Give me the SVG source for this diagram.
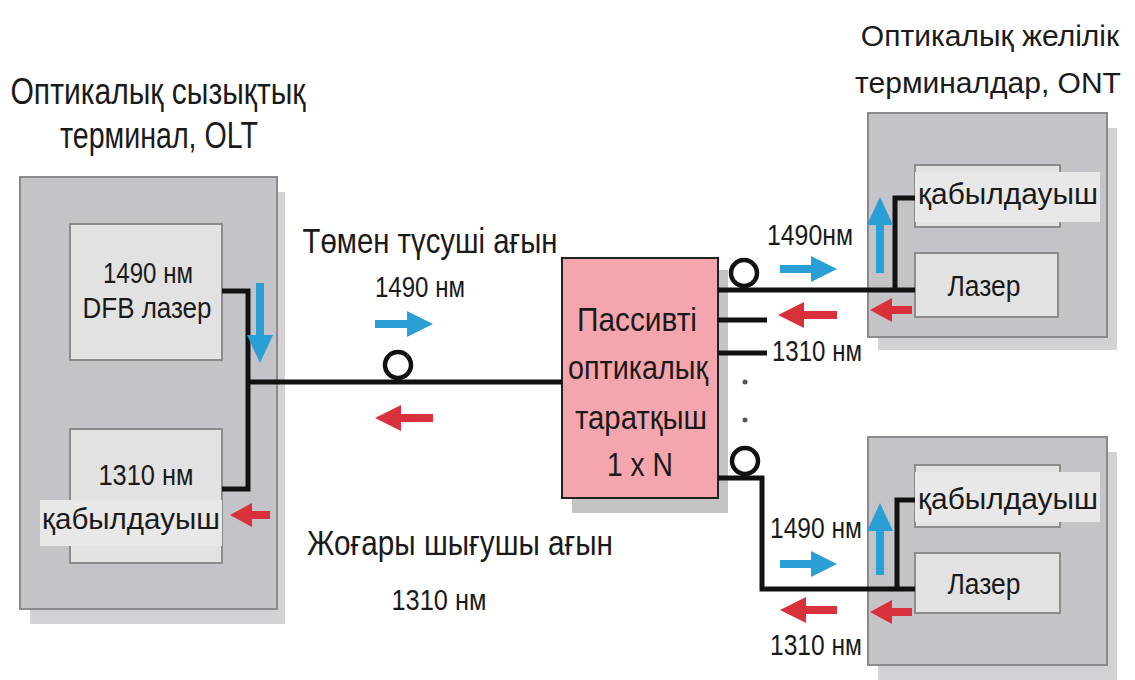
<svg xmlns="http://www.w3.org/2000/svg" width="1135" height="680" viewBox="0 0 1135 680">
<style>
text{font-family:"Liberation Sans",Arial,sans-serif;fill:#1a1a1a;text-anchor:middle}
.outer{fill:#c4c4c8;stroke:#8a8a8e;stroke-width:2}
.shadow{fill:#d2d2d6}
.inner{fill:#e2e2e2;stroke:#8c8c8c;stroke-width:2}
.tbg{fill:#e8e8e8}
.fiber{fill:none;stroke:#111;stroke-width:5}
.loop{fill:none;stroke:#111;stroke-width:4.5}
.blue{fill:#2a9fd6}
.red{fill:#d8313b}
.big{font-size:36px}
.rt{font-size:30px}
.mid{font-size:35px}
.spl{font-size:33px}
.sm{font-size:29px}
</style>
<rect width="1135" height="680" fill="#ffffff"/>

<g id="olt">
<rect class="shadow" x="30" y="192" width="255" height="432"/>
<rect class="outer" x="20" y="177" width="257" height="432"/>
<text class="big" x="158" y="104" textLength="295" lengthAdjust="spacingAndGlyphs">Оптикалық сызықтық</text>
<text class="big" x="159" y="148" textLength="198" lengthAdjust="spacingAndGlyphs">терминал, OLT</text>
</g>
<g id="olt-laser">
<rect class="inner" x="70" y="224" width="152" height="136"/>
<text class="sm" x="148" y="283" textLength="90" lengthAdjust="spacingAndGlyphs">1490 нм</text>
<text class="sm" x="147" y="318" textLength="129" lengthAdjust="spacingAndGlyphs">DFB лазер</text>
</g>
<g id="olt-receiver">
<rect class="inner" x="70" y="429" width="152" height="134"/>
<rect class="tbg" x="40" y="500" width="182" height="46"/>
<text class="sm" x="146" y="485" textLength="95" lengthAdjust="spacingAndGlyphs">1310 нм</text>
<text class="sm" x="131" y="529" textLength="178" lengthAdjust="spacingAndGlyphs">қабылдауыш</text>
</g>

<g id="splitter">
<rect x="572" y="270" width="156" height="243" fill="#c4c4c4"/>
<rect x="562" y="258" width="156" height="240" fill="#f5a5ad" stroke="#222" stroke-width="2"/>
<text class="spl" x="637" y="331" textLength="120" lengthAdjust="spacingAndGlyphs">Пассивті</text>
<text class="spl" x="638" y="379" textLength="140" lengthAdjust="spacingAndGlyphs">оптикалық</text>
<text class="spl" x="641" y="429" textLength="132" lengthAdjust="spacingAndGlyphs">таратқыш</text>
<text class="spl" x="640" y="476" textLength="66" lengthAdjust="spacingAndGlyphs">1 x N</text>
</g>

<g id="ont-top">
<rect class="shadow" x="878" y="128" width="239" height="222"/>
<rect class="outer" x="868" y="113" width="239" height="224"/>
<text class="rt" x="990" y="46">Оптикалық желілік</text>
<text class="rt" x="988" y="93">терминалдар, ONT</text>
</g>
<g id="ont-top-receiver">
<rect class="inner" x="915" y="165" width="145" height="62"/>
<rect class="tbg" x="915" y="172" width="185" height="50"/>
<text class="sm" x="1008" y="204" textLength="180" lengthAdjust="spacingAndGlyphs">қабылдауыш</text>
</g>
<g id="ont-top-laser">
<rect class="inner" x="915" y="253" width="143" height="64"/>
<text class="sm" x="984" y="296" textLength="73" lengthAdjust="spacingAndGlyphs">Лазер</text>
</g>

<g id="ont-bottom">
<rect class="shadow" x="878" y="452" width="239" height="228"/>
<rect class="outer" x="868" y="437" width="239" height="228"/>
</g>
<g id="ont-bottom-receiver">
<rect class="inner" x="915" y="465" width="145" height="62"/>
<rect class="tbg" x="915" y="472" width="185" height="50"/>
<text class="sm" x="1008" y="509" textLength="180" lengthAdjust="spacingAndGlyphs">қабылдауыш</text>
</g>
<g id="ont-bottom-laser">
<rect class="inner" x="915" y="553" width="145" height="60"/>
<text class="sm" x="984" y="594" textLength="73" lengthAdjust="spacingAndGlyphs">Лазер</text>
</g>

<g id="connectors">
<path class="fiber" d="M222,291 H248 V489 H222"/>
<path class="fiber" d="M248,382 H562"/>
<circle class="loop" cx="398" cy="365" r="13"/>
<path class="fiber" d="M718,290 H915"/>
<circle class="loop" cx="744" cy="273" r="13"/>
<path class="fiber" d="M718,320 H767"/>
<path class="fiber" d="M718,353 H767"/>
<circle cx="745" cy="382" r="2.5" fill="#555"/>
<circle cx="745" cy="420" r="2.5" fill="#555"/>
<path class="fiber" d="M718,478 H762 V589 H915"/>
<circle class="loop" cx="745" cy="461" r="13"/>
<path class="fiber" d="M895,290 V198 H915"/>
<path class="fiber" d="M897,589 V500 H915"/>
</g>

<g id="arrows">
<polygon class="blue" points="256,283 264,283 264,335 273,335 260,363 247,335 256,335"/>
<polygon class="blue" points="375,320 407,320 407,311 433,324 407,337 407,328 375,328"/>
<polygon class="blue" points="780,265 811,265 811,256 837,269 811,282 811,273 780,273"/>
<polygon class="blue" points="780,560 811,560 811,551 837,564 811,577 811,568 780,568"/>
<polygon class="blue" points="876,273 884,273 884,225 893,225 880,197 867,225 876,225"/>
<polygon class="blue" points="876,575 884,575 884,531 893,531 880,503 867,531 876,531"/>
<polygon class="red" points="270,511 252,511 252,503 230,515 252,527 252,519 270,519"/>
<polygon class="red" points="433,414 401,414 401,405 375,418 401,431 401,422 433,422"/>
<polygon class="red" points="837,311 804,311 804,302 778,315 804,328 804,319 837,319"/>
<polygon class="red" points="837,606 806,606 806,597 780,610 806,623 806,614 837,614"/>
<polygon class="red" points="912,306 892,306 892,298 870,310 892,322 892,314 912,314"/>
<polygon class="red" points="912,608 892,608 892,600 870,612 892,624 892,616 912,616"/>
</g>

<g id="labels">
<text class="mid" x="430" y="253" textLength="255" lengthAdjust="spacingAndGlyphs">Төмен түсуші ағын</text>
<text class="sm" x="420" y="297" textLength="90" lengthAdjust="spacingAndGlyphs">1490 нм</text>
<text class="mid" x="460" y="555" textLength="306" lengthAdjust="spacingAndGlyphs">Жоғары шығушы ағын</text>
<text class="sm" x="439" y="610" textLength="95" lengthAdjust="spacingAndGlyphs">1310 нм</text>
<text class="sm" x="810" y="245" textLength="86" lengthAdjust="spacingAndGlyphs">1490нм</text>
<text class="sm" x="817" y="361" textLength="90" lengthAdjust="spacingAndGlyphs">1310 нм</text>
<text class="sm" x="816" y="538" textLength="92" lengthAdjust="spacingAndGlyphs">1490 нм</text>
<text class="sm" x="816" y="655" textLength="92" lengthAdjust="spacingAndGlyphs">1310 нм</text>
</g>
</svg>
